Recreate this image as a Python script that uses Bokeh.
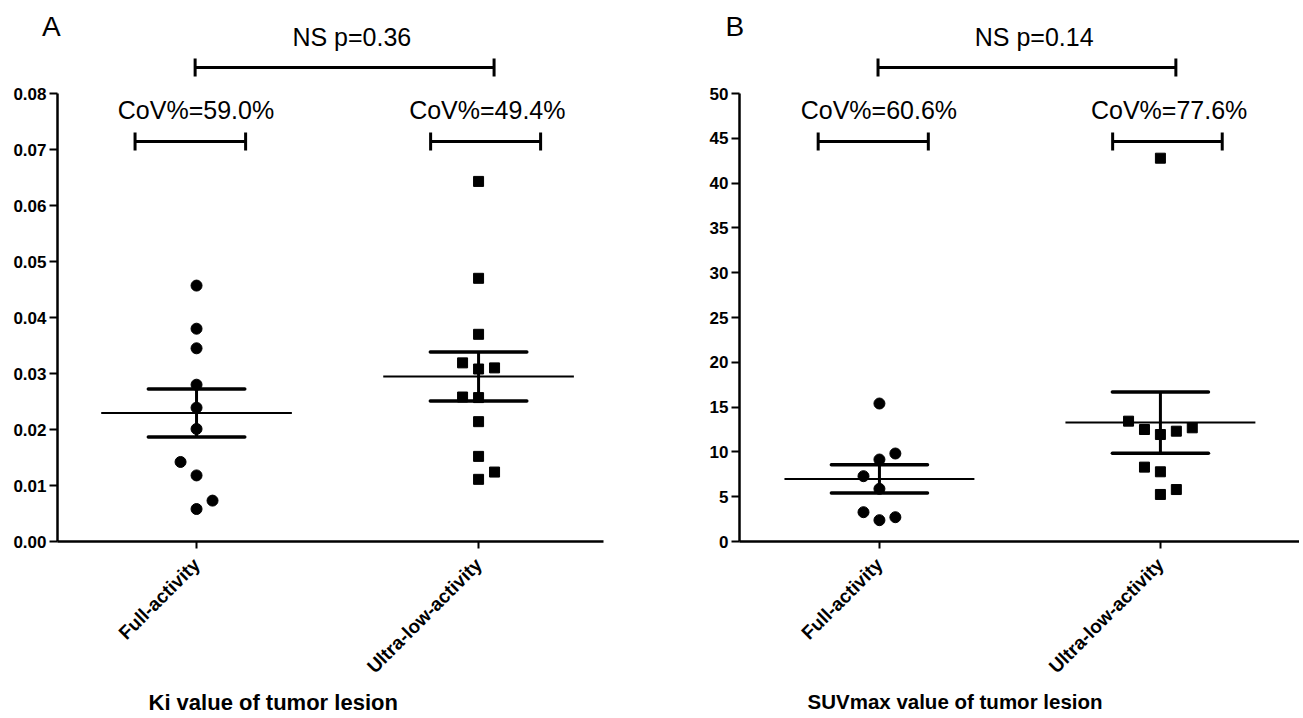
import math
import numpy as np
from bokeh.plotting import figure
from bokeh.models import FixedTicker, PrintfTickFormatter, Label, Range1d, Title
from bokeh.layouts import row
from bokeh.embed import file_html
from bokeh.resources import INLINE

# ---------------- data ----------------
groups = ["Full-activity", "Ultra-low-activity"]

ki_full = [0.0457, 0.0380, 0.0345, 0.0280, 0.0239, 0.0201, 0.0142, 0.0118, 0.0073, 0.0058]
ki_ultra = [0.0643, 0.0470, 0.0370, 0.0319, 0.0310, 0.0308, 0.0258, 0.0257, 0.0214, 0.0152, 0.0124, 0.0111]
suv_full = [15.40, 9.82, 9.15, 7.29, 5.88, 3.27, 2.71, 2.38]
suv_ultra = [42.78, 13.43, 12.69, 12.50, 12.31, 11.94, 8.30, 7.78, 5.80, 5.25]

# horizontal scatter offsets (in marker steps) to mimic the dot-plot spread
ki_full_jit = [0, 0, 0, 0, 0, 0, -1, 0, 1, 0]
ki_ultra_jit = [0, 0, 0, -1, 1, 0, -1, 0, 0, 0, 1, 0]
suv_full_jit = [0, 1, 0, -1, 0, -1, 1, 0]
suv_ultra_jit = [0, -2, 2, -1, 1, 0, -1, 0, 1, 0]

ki_ticks = [0.00, 0.01, 0.02, 0.03, 0.04, 0.05, 0.06, 0.07, 0.08]
suv_ticks = [0, 5, 10, 15, 20, 25, 30, 35, 40, 45, 50]

ki_cov = ["CoV%=59.0%", "CoV%=49.4%"]
suv_cov = ["CoV%=60.6%", "CoV%=77.6%"]
ki_p = "NS  p=0.36"
suv_p = "NS  p=0.14"

FONT = "Liberation Sans"
MB_TOP, MB_BOT = 17, 175
H = 541 + MB_BOT
FRAME_H = H - MB_TOP - MB_BOT          # 524
AXIS_PX = 448                           # pixel height of the drawn axis (0..max)
STEP = 0.0567                           # jitter step in category units


def panel(letter, values_list, jit_list, ticks, fmt, covs, ptext, title,
          width, mb_left, mb_right, x_start, x_end, title_offset, title_size, letter_side):
    ymax = ticks[-1]
    y_end = ymax * FRAME_H / AXIS_PX
    p = figure(width=width, height=H, output_backend="svg", toolbar_location=None,
               x_range=Range1d(x_start, x_end), y_range=Range1d(0, y_end),
               min_border_left=mb_left, min_border_right=mb_right,
               min_border_top=MB_TOP, min_border_bottom=MB_BOT)
    p.outline_line_color = None
    p.grid.visible = False
    p.background_fill_color = "white"
    p.border_fill_color = "white"

    # y axis
    ya = p.yaxis[0]
    ya.ticker = FixedTicker(ticks=ticks)
    ya.formatter = PrintfTickFormatter(format=fmt)
    ya.bounds = (0, ymax)
    ya.axis_line_width = 2.5
    ya.major_tick_line_width = 2
    ya.major_tick_out = 8
    ya.major_tick_in = 0
    ya.minor_tick_line_color = None
    ya.major_label_standoff = 3
    ya.major_label_text_font = FONT
    ya.major_label_text_font_style = "bold"
    ya.major_label_text_font_size = "17px"
    ya.major_label_text_color = "black"

    # x axis
    xa = p.xaxis[0]
    xa.ticker = FixedTicker(ticks=[1, 2])
    xa.major_label_overrides = {1: groups[0], 2: groups[1]}
    xa.major_label_orientation = math.pi / 4
    xa.axis_line_width = 2.5
    xa.major_tick_line_width = 2
    xa.major_tick_out = 7
    xa.major_tick_in = 0
    xa.minor_tick_line_color = None
    xa.major_label_standoff = 13
    xa.major_label_text_font = FONT
    xa.major_label_text_font_style = "bold"
    xa.major_label_text_font_size = "19px"
    xa.major_label_text_color = "black"

    markers = ["circle", "square"]
    sizes = [11, 10]
    for i, (vals, jit) in enumerate(zip(values_list, jit_list)):
        cx = i + 1
        xs = [cx + j * STEP for j in jit]
        p.scatter(xs, vals, marker=markers[i], size=sizes[i], color="black")
        arr = np.array(vals)
        m = arr.mean()
        sem = arr.std(ddof=1) / math.sqrt(len(arr))
        p.segment(cx - 0.338, m, cx + 0.338, m, line_color="black", line_width=2)
        p.segment(cx, m - sem, cx, m + sem, line_color="black", line_width=3)
        p.segment([cx - 0.171, cx - 0.171], [m - sem, m + sem],
                  [cx + 0.171, cx + 0.171], [m - sem, m + sem],
                  line_color="black", line_width=3.5, line_cap="round")

    cap = 0.02 * ymax
    yb = 0.893 * ymax
    for (x0, x1) in [(0.782, 1.174), (1.830, 2.220)]:
        p.segment(x0, yb, x1, yb, line_color="black", line_width=3)
        p.segment([x0, x1], [yb - cap, yb - cap], [x0, x1], [yb + cap, yb + cap],
                  line_color="black", line_width=3)
    yn = 1.058 * ymax
    x0, x1 = 0.995, 2.055
    p.segment(x0, yn, x1, yn, line_color="black", line_width=3)
    p.segment([x0, x1], [yn - cap, yn - cap], [x0, x1], [yn + cap, yn + cap],
              line_color="black", line_width=3)

    def lab(x, y, text, size, style="normal"):
        p.add_layout(Label(x=x, y=y, text=text, text_align="center", text_baseline="middle",
                           text_font=FONT, text_font_size=size, text_font_style=style,
                           text_color="black"))

    lab(0.998, 0.964 * ymax, covs[0], "25px")
    lab(2.031, 0.964 * ymax, covs[1], "25px")
    lab(1.563, 1.127 * ymax, ptext, "25px")

    # panel letter (placed in a side panel so that it is not clipped to the frame)
    p.add_layout(Label(x=0.485, y=1.15 * ymax, text=letter,
                       text_align="center", text_baseline="middle",
                       text_font=FONT, text_font_size="28px", text_color="black"), letter_side)

    # axis title under the category labels
    p.add_layout(Title(text=title, align="left", offset=title_offset, standoff=1,
                       text_font=FONT, text_font_size=title_size, text_font_style="bold",
                       text_color="black"), "below")
    return p


pA = panel("A", [ki_full, ki_ultra], [ki_full_jit, ki_ultra_jit], ki_ticks, "%.2f",
           ki_cov, ki_p, "Ki value of tumor lesion",
           width=660, mb_left=57, mb_right=57, x_start=0.507, x_end=2.443,
           title_offset=91, title_size="22px", letter_side="right")
pB = panel("B", [suv_full, suv_ultra], [suv_full_jit, suv_ultra_jit], suv_ticks, "%d",
           suv_cov, suv_p, "SUVmax value of tumor lesion",
           width=639, mb_left=79, mb_right=0, x_start=0.502, x_end=2.495,
           title_offset=68, title_size="20.5px", letter_side="left")

layout = row(pA, pB)
open("out.html", "w").write(file_html(layout, INLINE))
